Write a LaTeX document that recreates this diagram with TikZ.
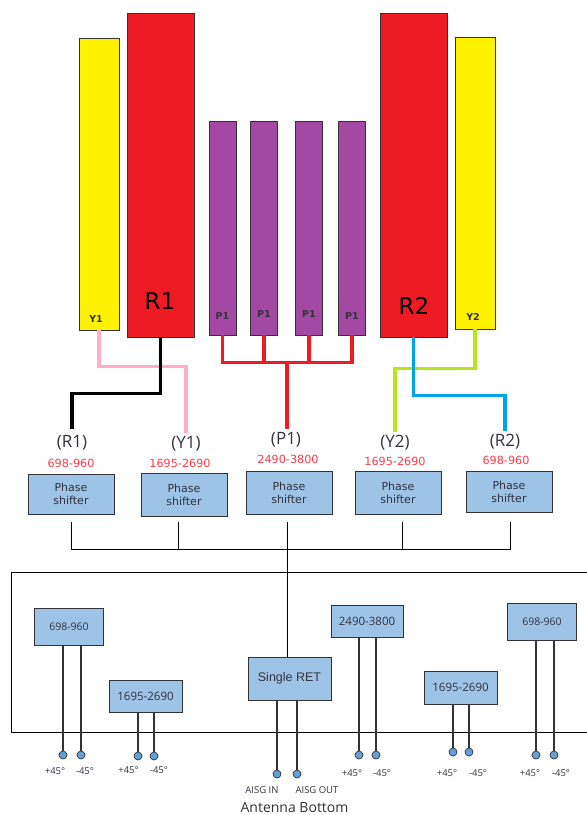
\documentclass[tikz,border=0pt]{standalone}
\usepackage{xcolor}
\usepackage{fontspec}
\setmainfont{Open Sans}
\newfontfamily\verdfont{DejaVu Sans}
\newfontfamily\arialfont{Liberation Sans}
\usepackage{tikz}
\usetikzlibrary{positioning, calc}
\definecolor{myred}{RGB}{237,28,36}
\definecolor{myyellow}{RGB}{255,242,0}
\definecolor{mypurple}{RGB}{163,73,164}
\definecolor{mypink}{RGB}{255,174,201}
\definecolor{mylime}{RGB}{181,230,29}
\definecolor{mycyan}{RGB}{0,162,232}
\definecolor{myblue}{RGB}{157,195,230}
\definecolor{mypin}{RGB}{100,160,215}
\definecolor{mydark}{RGB}{50,50,55}
\definecolor{mytext}{RGB}{50,50,65}
\definecolor{lblred}{RGB}{250,60,75}
\tikzset{
  bar/.style={rectangle, draw=mydark, line width=0.9pt, inner sep=0pt, text=black},
  pbar/.style={bar, fill=mypurple, minimum width=27, minimum height=214},
  tag/.style={inner sep=0pt, text=mydark, font=\verdfont\fontsize{9.5}{12}\selectfont\bfseries},
  sigtext/.style={inner sep=3pt, text=mytext, font=\fontsize{17}{19}\selectfont},
  bandtext/.style={inner sep=0pt, text=lblred, font=\verdfont\fontsize{11.2}{13}\selectfont},
  shifter/.style={rectangle, draw=mydark, fill=myblue, line width=1pt, minimum width=86,
    align=center, inner sep=0pt, text=mytext, font=\verdfont\fontsize{11}{13}\selectfont},
  module/.style={rectangle, draw=mydark, fill=myblue, line width=1pt, inner sep=0pt,
    text=mytext, font=\fontsize{10.5}{12}\selectfont},
  pin/.style={circle, draw=mydark, fill=mypin, line width=0.7pt, minimum size=8, inner sep=0pt},
  pol/.style={inner sep=0pt, text=mytext, font=\fontsize{9.5}{11}\selectfont},
  wire/.style={line width=3.3pt, line join=miter},
  feed/.style={line width=1.4pt, color=mydark},
  line/.style={line width=0.9pt, color=black}
}
\begin{document}
\begin{tikzpicture}[x=1pt, y=-1pt]
  \useasboundingbox (0,0) rectangle (587,815);

  % Radiators
  \node[bar, fill=myyellow, minimum width=40, minimum height=292] (yone) at (99,184) {};
  \node[bar, fill=myred, minimum width=67, minimum height=324] (rone) at (160.5,175) {};
  \node[bar, fill=myred, minimum width=67, minimum height=324] (rtwo) at (413.5,175) {};
  \node[bar, fill=myyellow, minimum width=40, minimum height=292] (ytwo) at (475,183) {};
  \foreach \nm/\cx/\ly in {a/222.5/316, b/264/314, c/309/314, d/352/316}{
    \node[pbar] (p\nm) at (\cx,228) {};
    \node[tag] (ptag\nm) at (\cx,\ly) {P1};
  }
  \node[tag] (ytagone) at (96,319) {Y1};
  \node[tag] (ytagtwo) at (473,317) {Y2};
  \node[inner sep=0pt, font=\verdfont\fontsize{23}{25}\selectfont] (rtagone) at (160,301) {R1};
  \node[inner sep=0pt, font=\verdfont\fontsize{23}{25}\selectfont] (rtagtwo) at (414,306) {R2};

  % Signal labels
  \node[sigtext] (sigrone) at (72,443) {(R1)};
  \node[sigtext] (sigyone) at (186,444) {(Y1)};
  \node[sigtext] (sigp) at (286,440) {(P1)};
  \node[sigtext] (sigytwo) at (395,443) {(Y2)};
  \node[sigtext] (sigrtwo) at (505,442) {(R2)};
  \node[bandtext] (bandrone) at (71,463) {698-960};
  \node[bandtext] (bandyone) at (180,463) {1695-2690};
  \node[bandtext] (bandp) at (288,459) {2490-3800};
  \node[bandtext] (bandytwo) at (395,461) {1695-2690};
  \node[bandtext] (bandrtwo) at (506,460) {698-960};

  % Colored feeds
  \coordinate (pjoin) at (287,362);
  \draw[wire, color=mypink] (yone.south) -- ++(0,36) -| (sigyone.north);
  \draw[wire, color=black, shorten >=3pt] (rone.south) -- ++(0,56) -| (sigrone.north);
  \draw[wire, color=mylime] (ytwo.south) -- ++(0,39) -| (sigytwo.north);
  \draw[wire, color=mycyan] (rtwo.south) -- ++(0,58) -| (sigrtwo.north);
  \draw[wire, color=myred] (pa.south) -- ++(0,27) -| (pd.south);
  \draw[wire, color=myred] (pb.south) -- ++(0,27);
  \draw[wire, color=myred] (pc.south) -- ++(0,27);
  \draw[wire, color=myred] (pjoin) -- (pjoin |- sigp.north);

  % Phase shifters
  \node[shifter, minimum height=40] (psa) at (71,494) {Phase\\shifter};
  \node[shifter, minimum height=43] (psb) at (184,494.5) {Phase\\shifter};
  \node[shifter, minimum height=43] (psc) at (289,492.5) {Phase\\shifter};
  \node[shifter, minimum height=43] (psd) at (398,492.5) {Phase\\shifter};
  \node[shifter, minimum height=41] (pse) at (509,491.5) {Phase\\shifter};

  % Antenna outline
  \coordinate (frameul) at (587,572);
  \coordinate (framell) at (587,732);
  \draw[line] (frameul) -- (11,572) -- (11,732) -- (framell);

  % Common bus
  \coordinate (dropa) at (71,522);
  \coordinate (dropb) at (178,522);
  \coordinate (dropc) at (287,522);
  \coordinate (dropd) at (402,522);
  \coordinate (drope) at (510,522);
  \draw[line] (dropa) -- ++(0,27) -| (drope);
  \draw[line] (dropb) -- ++(0,27);
  \draw[line] (dropd) -- ++(0,27);

  % Band modules
  \node[module, minimum width=69, minimum height=37] (moda) at (69,626.5) {698-960};
  \node[module, minimum width=73, minimum height=32, font=\fontsize{11.5}{13}\selectfont] (modb) at (145.5,696) {1695-2690};
  \node[module, minimum width=83, minimum height=43, font=\arialfont\fontsize{12.5}{14}\selectfont] (ret) at (289.5,678.5) {Single RET};
  \node[module, minimum width=72, minimum height=32, font=\fontsize{11.5}{13}\selectfont] (modc) at (367,621) {2490-3800};
  \node[module, minimum width=73, minimum height=33, font=\fontsize{11.5}{13}\selectfont] (modd) at (460.5,687.5) {1695-2690};
  \node[module, minimum width=69, minimum height=37] (mode) at (542,621.5) {698-960};
  \draw[line] (dropc) -- (dropc |- ret.north);

  % Ports
  \foreach \nm/\md/\cx/\cy in {aa/moda/63/755, ab/moda/81/755, ba/modb/138/756, bb/modb/154/756,
    ca/modc/359/755, cb/modc/376/755, da/modd/453/752, db/modd/469/752,
    ea/mode/536/755, eb/mode/554/755}{
    \node[pin] (pin\nm) at (\cx,\cy) {};
    \draw[feed] (\md.south -| pin\nm) -- (pin\nm);
  }
  \foreach \nm/\txt/\lx/\ly in {aa/+45°/55/771, ab/-45°/85/771, ba/+45°/128.5/770, bb/-45°/159/770,
    ca/+45°/352/773, cb/-45°/382/773, da/+45°/447/773, db/-45°/478/773,
    ea/+45°/530/773, eb/-45°/561/773}{
    \node[pol] (pol\nm) at (\lx,\ly) {\txt};
  }
  \node[pin] (aisgin) at (277,774) {};
  \node[pin] (aisgout) at (297,774) {};
  \draw[feed] (ret.south -| aisgin) -- (aisgin);
  \draw[feed] (ret.south -| aisgout) -- (aisgout);
  \node[pol] (lblin) at (262,790) {AISG IN};
  \node[pol] (lblout) at (317,790) {AISG OUT};
  \node[inner sep=0pt, text=mydark, font=\fontsize{14}{16}\selectfont] (bottom) at (294.5,808) {Antenna Bottom};
\end{tikzpicture}
\end{document}
